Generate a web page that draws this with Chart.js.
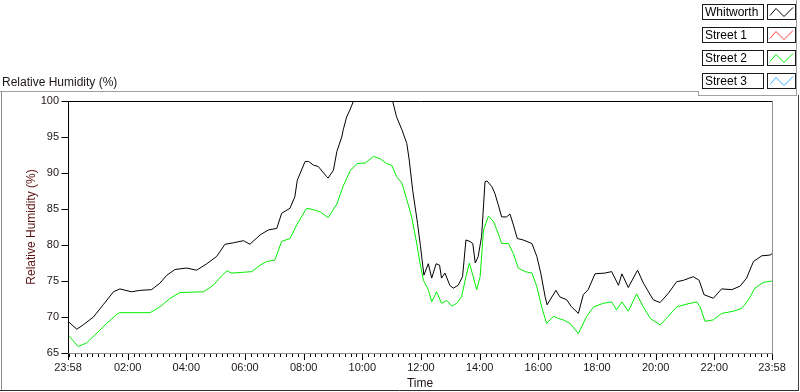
<!DOCTYPE html>
<html>
<head>
<meta charset="utf-8">
<title>Relative Humidity (%)</title>
<script src="https://cdn.jsdelivr.net/npm/chart.js@4.4.1/dist/chart.umd.min.js"></script>
<style>
  html, body { margin: 0; padding: 0; background: #fff; }
  #wrap { width: 800px; height: 392px; position: relative; }
</style>
</head>
<body>
<div id="wrap"><canvas id="rh-chart"></canvas></div>
<script>
// minutes since 23:58 and the matching tick labels
const xTickMinutes = [0, 122, 242, 362, 482, 602, 722, 842, 962, 1082, 1202, 1322, 1440];
const xTickLabels = ["23:58", "02:00", "04:00", "06:00", "08:00", "10:00", "12:00",
  "14:00", "16:00", "18:00", "20:00", "22:00", "23:58"];

const seriesNames = ["Whitworth", "Street 1", "Street 2", "Street 3"];
const seriesColors = ["#000000", "#ff3b3b", "#00ee00", "#3fb0ff"];

// Whitworth (black)
const whitworthTime = [
  0, 18, 31, 52, 72, 93, 106, 130, 147, 171,
  188, 202, 219, 243, 263, 284, 304, 321, 338, 359,
  372, 393, 410, 427, 437, 454, 464, 469, 485, 492,
  502, 512, 529, 532, 543, 550, 560, 563, 570, 577,
  584, 664, 672, 683, 693, 698, 705, 715, 721, 728,
  737, 744, 753, 760, 764, 771, 781, 788, 798, 807,
  814, 822, 828, 833, 839, 846, 853, 857, 867, 873,
  880, 887, 897, 904, 911, 919, 931, 949, 959, 967,
  976, 980, 998, 1006, 1020, 1030, 1044, 1054, 1064, 1078,
  1098, 1112, 1126, 1133, 1146, 1165, 1177, 1197, 1211, 1228,
  1245, 1259, 1279, 1291, 1301, 1320, 1337, 1358, 1375, 1388,
  1402, 1419, 1436, 1440];
const whitworthRH = [
  69.4, 68.3, 68.9, 70.0, 71.7, 73.5, 73.9, 73.5, 73.7, 73.8,
  74.7, 75.8, 76.6, 76.8, 76.5, 77.4, 78.4, 80.1, 80.3, 80.6,
  80.1, 81.4, 82.1, 82.3, 84.4, 85.1, 86.7, 89.0, 91.6, 91.6,
  91.1, 90.9, 89.5, 89.3, 90.4, 93.0, 95.0, 96.0, 97.8, 98.8,
  100, 100, 97.8, 96.0, 94.1, 91.8, 87.6, 83.0, 79.8, 75.8,
  77.4, 75.4, 77.4, 77.2, 75.4, 76.1, 74.4, 74.0, 74.4, 75.6,
  80.7, 80.5, 80.2, 77.5, 78.4, 81.2, 88.8, 88.9, 88.1, 87.2,
  85.6, 83.9, 83.9, 84.3, 82.8, 80.9, 80.7, 80.2, 78.4, 76.1,
  72.8, 71.7, 73.7, 72.8, 72.4, 71.4, 70.5, 73.1, 73.8, 76.0,
  76.1, 76.3, 74.4, 76.0, 74.1, 76.5, 74.7, 72.4, 72.0, 73.3,
  74.9, 75.1, 75.6, 75.1, 73.1, 72.6, 73.9, 73.8, 74.3, 75.4,
  77.7, 78.5, 78.6, 78.8];

// Street 2 (green)
const street2Time = [
  0, 21, 38, 55, 79, 100, 106, 168, 188, 209,
  229, 277, 297, 314, 325, 335, 376, 393, 406, 423,
  437, 454, 468, 488, 502, 516, 532, 550, 563, 577,
  591, 608, 625, 638, 652, 662, 672, 683, 693, 703,
  712, 720, 727, 737, 744, 754, 764, 775, 785, 795,
  805, 814, 821, 828, 836, 843, 850, 860, 870, 880,
  887, 901, 911, 921, 935, 949, 959, 969, 979, 993,
  1003, 1013, 1027, 1044, 1061, 1075, 1095, 1112, 1122, 1133,
  1146, 1163, 1177, 1191, 1211, 1228, 1245, 1266, 1286, 1293,
  1303, 1320, 1337, 1361, 1378, 1392, 1405, 1422, 1440];
const street2RH = [
  67.5, 65.9, 66.4, 67.5, 69.1, 70.4, 70.6, 70.6, 71.4, 72.6,
  73.4, 73.5, 74.4, 75.7, 76.4, 76.1, 76.3, 77.2, 77.7, 77.9,
  80.5, 80.9, 82.8, 85.1, 84.9, 84.6, 83.8, 85.7, 88.2, 90.3,
  91.3, 91.4, 92.3, 92.0, 91.3, 91.1, 89.5, 88.6, 86.3, 83.9,
  80.7, 77.5, 75.1, 73.8, 72.1, 73.5, 71.9, 72.3, 71.5, 71.9,
  72.8, 75.6, 77.5, 75.8, 73.8, 75.6, 82.1, 84.0, 83.3, 81.6,
  80.2, 80.2, 78.8, 76.8, 76.3, 76.1, 74.2, 71.4, 69.1, 70.1,
  69.8, 69.6, 69.1, 67.7, 70.1, 71.4, 71.9, 72.1, 71.0, 72.1,
  70.8, 73.2, 71.4, 69.8, 68.9, 70.1, 71.4, 71.8, 72.1, 71.4,
  69.4, 69.6, 70.5, 70.8, 71.2, 72.4, 74.0, 74.8, 75.0];

const TEXT_COLOR = "#1e1616";
const AXIS_TITLE_COLOR = "#5a1212";
const LIGHT_GRAY = "#a0a0a0";

function toPoints(times, values) {
  return times.map((t, i) => ({ x: t, y: values[i] }));
}

function hline(ctx, x1, x2, y, color) {
  ctx.strokeStyle = color;
  ctx.beginPath();
  ctx.moveTo(x1, y);
  ctx.lineTo(x2, y);
  ctx.stroke();
}

function vline(ctx, x, y1, y2, color) {
  ctx.strokeStyle = color;
  ctx.beginPath();
  ctx.moveTo(x, y1);
  ctx.lineTo(x, y2);
  ctx.stroke();
}

// frame, tick marks, titles and the LabVIEW style legend
const labviewFrame = {
  id: "labviewFrame",
  afterDraw(chart) {
    const ctx = chart.ctx;
    const a = chart.chartArea;
    const xs = chart.scales.x;
    const ys = chart.scales.y;
    const left = Math.round(a.left) + 0.5;
    const right = Math.round(a.right) + 0.5;
    const top = Math.round(a.top) + 0.5;
    const bottom = Math.round(a.bottom) + 0.5;

    ctx.save();
    ctx.lineWidth = 1;

    // panel frame
    hline(ctx, 0, 698, 91.5, LIGHT_GRAY);
    vline(ctx, 698.5, 91, 96, LIGHT_GRAY);
    hline(ctx, 698, 797, 95.5, LIGHT_GRAY);
    vline(ctx, 796.5, 0, 96, LIGHT_GRAY);
    vline(ctx, 1.5, 91, 390, "#8a8a8a");
    vline(ctx, 798.5, 95, 391, "#404040");
    hline(ctx, 0, 799, 390.5, "#303030");

    // plot border
    hline(ctx, left, right, top, "#000");
    vline(ctx, left, top, bottom, "#000");
    hline(ctx, left, right + 0.5, bottom, "#909090");
    vline(ctx, right, top, bottom, "#909090");

    // x tick marks: major every 2 h, minor every 12 min
    ctx.strokeStyle = "#000";
    for (let m = 2; m < 1440; m += 12) {
      const px = Math.round(xs.getPixelForValue(m)) + 0.5;
      const major = xTickMinutes.includes(m);
      vline(ctx, px, bottom + 0.5, bottom + (major ? 6.5 : 3.5), "#000");
    }
    xTickMinutes.forEach((m) => {
      const px = Math.round(xs.getPixelForValue(m)) + 0.5;
      vline(ctx, px, bottom + 0.5, bottom + 6.5, "#000");
    });

    // y tick marks
    for (let v = 65; v <= 100; v += 5) {
      const py = Math.round(ys.getPixelForValue(v)) + 0.5;
      hline(ctx, left - 7, left, py, "#000");
    }

    // titles
    ctx.fillStyle = TEXT_COLOR;
    ctx.font = "12px 'Liberation Sans', Arial, sans-serif";
    ctx.textAlign = "left";
    ctx.textBaseline = "middle";
    ctx.fillText("Relative Humidity (%)", 2, 83);

    ctx.textAlign = "center";
    ctx.fillText("Time", (a.left + a.right) / 2, 384);

    ctx.save();
    ctx.translate(32, (a.top + a.bottom) / 2);
    ctx.rotate(-Math.PI / 2);
    ctx.fillStyle = AXIS_TITLE_COLOR;
    ctx.fillText("Relative Humidity (%)", 0, 0);
    ctx.restore();

    // legend
    chart.data.datasets.forEach((ds, i) => {
      const rowTop = 4.5 + 23 * i;
      ctx.fillStyle = "#fff";
      ctx.fillRect(702.5, rowTop, 61, 15);
      ctx.fillRect(767.5, rowTop, 28, 15);
      ctx.strokeStyle = "#1a1a1a";
      ctx.strokeRect(702.5, rowTop, 61, 15);
      ctx.strokeRect(767.5, rowTop, 28, 15);

      ctx.fillStyle = "#000";
      ctx.textAlign = "left";
      ctx.fillText(ds.label, 705, rowTop + 8);

      ctx.strokeStyle = ds.borderColor;
      ctx.beginPath();
      ctx.moveTo(770, rowTop + 11);
      ctx.lineTo(776, rowTop + 4);
      ctx.lineTo(784, rowTop + 12);
      ctx.lineTo(793, rowTop + 3);
      ctx.stroke();
    });

    ctx.restore();
  },
};

const datasets = seriesNames.map((name, i) => ({
  label: name,
  data: [],
  borderColor: seriesColors[i],
  borderWidth: 1,
  pointRadius: 0,
  tension: 0,
  fill: false,
}));
datasets[0].data = toPoints(whitworthTime, whitworthRH);
datasets[2].data = toPoints(street2Time, street2RH);

const rhChart = new Chart(document.getElementById("rh-chart"), {
  type: "line",
  data: { datasets: datasets },
  options: {
    responsive: true,
    maintainAspectRatio: false,
    animation: false,
    layout: { padding: { top: 101, right: 28, bottom: 0, left: 0 } },
    scales: {
      x: {
        type: "linear",
        min: 0,
        max: 1440,
        afterBuildTicks: (scale) => {
          scale.ticks = xTickMinutes.map((v) => ({ value: v }));
        },
        afterFit: (scale) => { scale.height = 39; },
        grid: { display: false, drawTicks: false },
        border: { display: false },
        ticks: {
          autoSkip: false,
          maxRotation: 0,
          padding: 8,
          color: TEXT_COLOR,
          font: { family: "'Liberation Sans', Arial, sans-serif", size: 11 },
          callback: (value) => {
            const idx = xTickMinutes.indexOf(value);
            return idx >= 0 ? xTickLabels[idx] : "";
          },
        },
      },
      y: {
        min: 65,
        max: 100,
        afterFit: (scale) => { scale.width = 68; },
        grid: { display: false, drawTicks: false },
        border: { display: false },
        ticks: {
          stepSize: 5,
          padding: 9,
          color: TEXT_COLOR,
          font: { family: "'Liberation Sans', Arial, sans-serif", size: 11 },
        },
      },
    },
    plugins: {
      legend: { display: false },
      tooltip: { enabled: false },
    },
  },
  plugins: [labviewFrame],
});
</script>
</body>
</html>
